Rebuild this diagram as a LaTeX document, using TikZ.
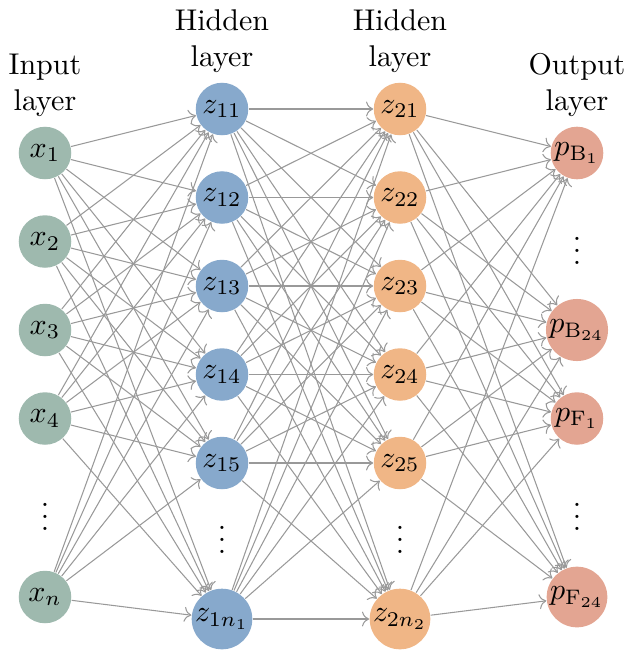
\documentclass[tikz,border=0pt]{standalone}
\usepackage{amsmath,amssymb}
\usepackage{xcolor}
\usepackage{tikz}
\usetikzlibrary{positioning,arrows.meta}
\definecolor{inputc}{HTML}{9EB9AE}
\definecolor{hidAc}{HTML}{87A9CC}
\definecolor{hidBc}{HTML}{F0B686}
\definecolor{outc}{HTML}{E3A592}

\begin{document}
\begin{tikzpicture}[x=0.3333pt, y=-0.3333pt,
    neuron/.style={circle, minimum size=17.5pt, inner sep=0.4pt},
    conn/.style={->, draw=black!40, line width=0.35pt},
    title/.style={align=center, inner sep=3pt}]
    \useasboundingbox (0,0) rectangle (629,653);

    % input layer
    \foreach \n/\y/\t in {1/153/x_1, 2/241.5/x_2, 3/330/x_3, 4/418.5/x_4, 5/597/x_n}
        \node [neuron, fill=inputc] (in\n) at (45,\y) {$\t$};
    \node (inDots) at (45,507.5) {$\vdots$};

    % hidden layers
    \foreach \n/\y in {1/109, 2/197.5, 3/286, 4/374.5, 5/463} {
        \node [neuron, fill=hidAc] (hA\n) at (222,\y) {$z_{1\n}$};
        \node [neuron, fill=hidBc] (hB\n) at (400,\y) {$z_{2\n}$};
    }
    \node [neuron, fill=hidAc] (hA6) at (222,619) {$z_{1n_1}$};
    \node [neuron, fill=hidBc] (hB6) at (400,619) {$z_{2n_2}$};
    \node (hADots) at (222,531) {$\vdots$};
    \node (hBDots) at (400,531) {$\vdots$};

    % output layer
    \foreach \n/\y/\l/\s in {1/153/B/1, 2/330/B/24, 3/418.5/F/1, 4/597/F/24}
        \node [neuron, fill=outc] (out\n) at (577,\y) {$p_{\mathrm{\l}_{\s}}$};
    \node (outDotsA) at (577,241.5) {$\vdots$};
    \node (outDotsB) at (577,507.5) {$\vdots$};

    % connections
    \foreach \a in {1,...,5}
        \foreach \b in {1,...,6}
            \draw [conn] (in\a) -- (hA\b);
    \foreach \a in {1,...,6}
        \foreach \b in {1,...,6}
            \draw [conn] (hA\a) -- (hB\b);
    \foreach \a in {1,...,6}
        \foreach \b in {1,...,4}
            \draw [conn] (hB\a) -- (out\b);

    % titles
    \node [title, above=0pt of in1] (tIn) {Input\\layer};
    \node [title, above=0pt of hA1] (tHA) {Hidden\\layer};
    \node [title, above=0pt of hB1] (tHB) {Hidden\\layer};
    \node [title, above=0pt of out1] (tOut) {Output\\layer};
\end{tikzpicture}
\end{document}
